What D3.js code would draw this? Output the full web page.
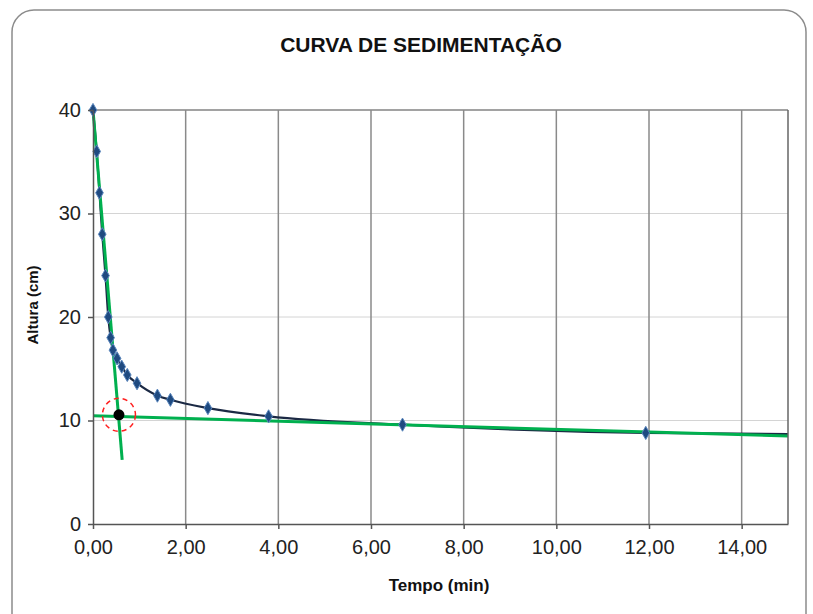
<!DOCTYPE html>
<html lang="pt">
<head>
    <meta charset="utf-8"/>
    <style>
        body {
            margin: 0;
            background: #fff;
        }
        svg {
            display: block;
            font-family: "Liberation Sans", Arial, sans-serif;
        }
        .frame {
            fill: #fff;
            stroke: #8c8c8c;
            stroke-width: 1.5px;
        }
        .grid-x line {
            stroke: #8a8a8a;
            stroke-width: 1.5px;
        }
        .grid-y line {
            stroke: #d4d4d4;
            stroke-width: 1px;
        }
        .axis path, .axis line {
            stroke: #555;
            stroke-width: 1.5px;
        }
        .axis text {
            font-size: 20px;
            fill: #222;
        }
        path.data {
            fill: none;
            stroke: #1b2944;
            stroke-width: 2.2px;
        }
        path.marker {
            fill: #1f4a80;
            stroke: #5a86bd;
            stroke-width: 1px;
        }
        line.tangent {
            stroke: #00b04f;
            stroke-width: 3px;
            stroke-linecap: butt;
        }
        circle.ring {
            fill: none;
            stroke: #ff1f1f;
            stroke-width: 1.5px;
            stroke-dasharray: 5 4;
        }
    </style>
    <script src="https://d3js.org/d3.v7.min.js" charset="utf-8"></script>
</head>
<body>
<svg id="chart" width="813" height="614"></svg>
<script>
    // tempo (min) e altura (cm)
    var tempo  = [0, 0.08, 0.14, 0.2, 0.27, 0.33, 0.38, 0.43, 0.52, 0.62, 0.74, 0.95, 1.39, 1.67, 2.48, 3.79, 6.68, 11.93, 20];
    var altura = [40, 36, 32, 28, 24, 20, 18, 16.8, 16, 15.2, 14.4, 13.6, 12.4, 12, 11.2, 10.4, 9.6, 8.8, 8.5];

    // retas tangentes e ponto de intersecao
    var tangente1 = [[0, 40], [0.63, 6.2]];
    var tangente2 = [[0, 10.45], [15, 8.5]];
    var ponto = [0.56, 10.55];

    var xTicks = [0, 2, 4, 6, 8, 10, 12, 14];
    var yTicks = [0, 10, 20, 30, 40];

    var svg = d3.select('#chart');
    var pl = 93, pr = 788, pt = 110, pb = 524;

    var x = d3.scaleLinear().domain([0, 15]).range([pl, pr]);
    var y = d3.scaleLinear().domain([0, 40]).range([pb, pt]);
    var fmt = function(d) { return d3.format('.2f')(d).replace('.', ','); };

    svg.append('rect').classed('frame', true)
        .attr('x', 12).attr('y', 10).attr('width', 794).attr('height', 640).attr('rx', 22);

    svg.append('text')
        .attr('x', 421).attr('y', 52)
        .attr('text-anchor', 'middle')
        .style('font-size', '21px').style('font-weight', 'bold').style('fill', '#111')
        .text('CURVA DE SEDIMENTAÇÃO');

    // grelha
    svg.append('g').classed('grid-y', true)
        .selectAll('line').data(yTicks.slice(1)).enter().append('line')
        .attr('x1', pl).attr('x2', pr)
        .attr('y1', y).attr('y2', y);
    svg.append('g').classed('grid-x', true)
        .selectAll('line').data(xTicks.slice(1)).enter().append('line')
        .attr('x1', x).attr('x2', x)
        .attr('y1', pt).attr('y2', pb);
    svg.append('line')
        .attr('x1', pl).attr('x2', pr).attr('y1', pt).attr('y2', pt)
        .style('stroke', '#8a8a8a').style('stroke-width', '1.5px');

    svg.append('clipPath').attr('id', 'plot')
        .append('rect').attr('x', pl - 6).attr('y', pt - 6)
        .attr('width', pr - pl + 6).attr('height', pb - pt + 12);

    var g = svg.append('g').attr('clip-path', 'url(#plot)');

    var pts = tempo.map(function(t, i) { return [t, altura[i]]; });
    var line = d3.line()
        .x(function(d) { return x(d[0]); })
        .y(function(d) { return y(d[1]); })
        .curve(d3.curveMonotoneX);

    g.append('path').classed('data', true).attr('d', line(pts));

    svg.selectAll('path.marker')
        .data(pts.filter(function(d) { return d[0] <= 15; }))
        .enter().append('path').classed('marker', true)
        .attr('d', d3.symbol().type(d3.symbolDiamond).size(50))
        .attr('transform', function(d) {
            return 'translate(' + x(d[0]) + ',' + y(d[1]) + ')';
        });

    [tangente1, tangente2].forEach(function(t) {
        g.append('line').classed('tangent', true)
            .attr('x1', x(t[0][0])).attr('y1', y(t[0][1]))
            .attr('x2', x(t[1][0])).attr('y2', y(t[1][1]));
    });

    svg.append('circle').classed('ring', true)
        .attr('cx', x(ponto[0])).attr('cy', y(ponto[1])).attr('r', 16.5);
    svg.append('circle')
        .attr('cx', x(ponto[0])).attr('cy', y(ponto[1])).attr('r', 5.5)
        .style('fill', '#000');

    // eixos
    svg.append('g').classed('axis', true)
        .attr('transform', 'translate(0,' + pb + ')')
        .call(d3.axisBottom(x).tickValues(xTicks).tickFormat(fmt).tickSize(5).tickSizeOuter(0).tickPadding(11));
    svg.append('g').classed('axis', true)
        .attr('transform', 'translate(' + pl + ',0)')
        .call(d3.axisLeft(y).tickValues(yTicks).tickSize(5).tickSizeOuter(0).tickPadding(7));
    svg.append('line')
        .attr('x1', pr).attr('x2', pr).attr('y1', pt).attr('y2', pb)
        .style('stroke', '#666').style('stroke-width', '1.5px');

    svg.append('text')
        .attr('x', 439).attr('y', 591)
        .attr('text-anchor', 'middle')
        .style('font-size', '17px').style('font-weight', 'bold').style('fill', '#111')
        .text('Tempo (min)');
    svg.append('text')
        .attr('transform', 'translate(38,305) rotate(-90)')
        .attr('text-anchor', 'middle')
        .style('font-size', '15px').style('font-weight', 'bold').style('fill', '#111')
        .text('Altura  (cm)');
</script>
</body>
</html>
